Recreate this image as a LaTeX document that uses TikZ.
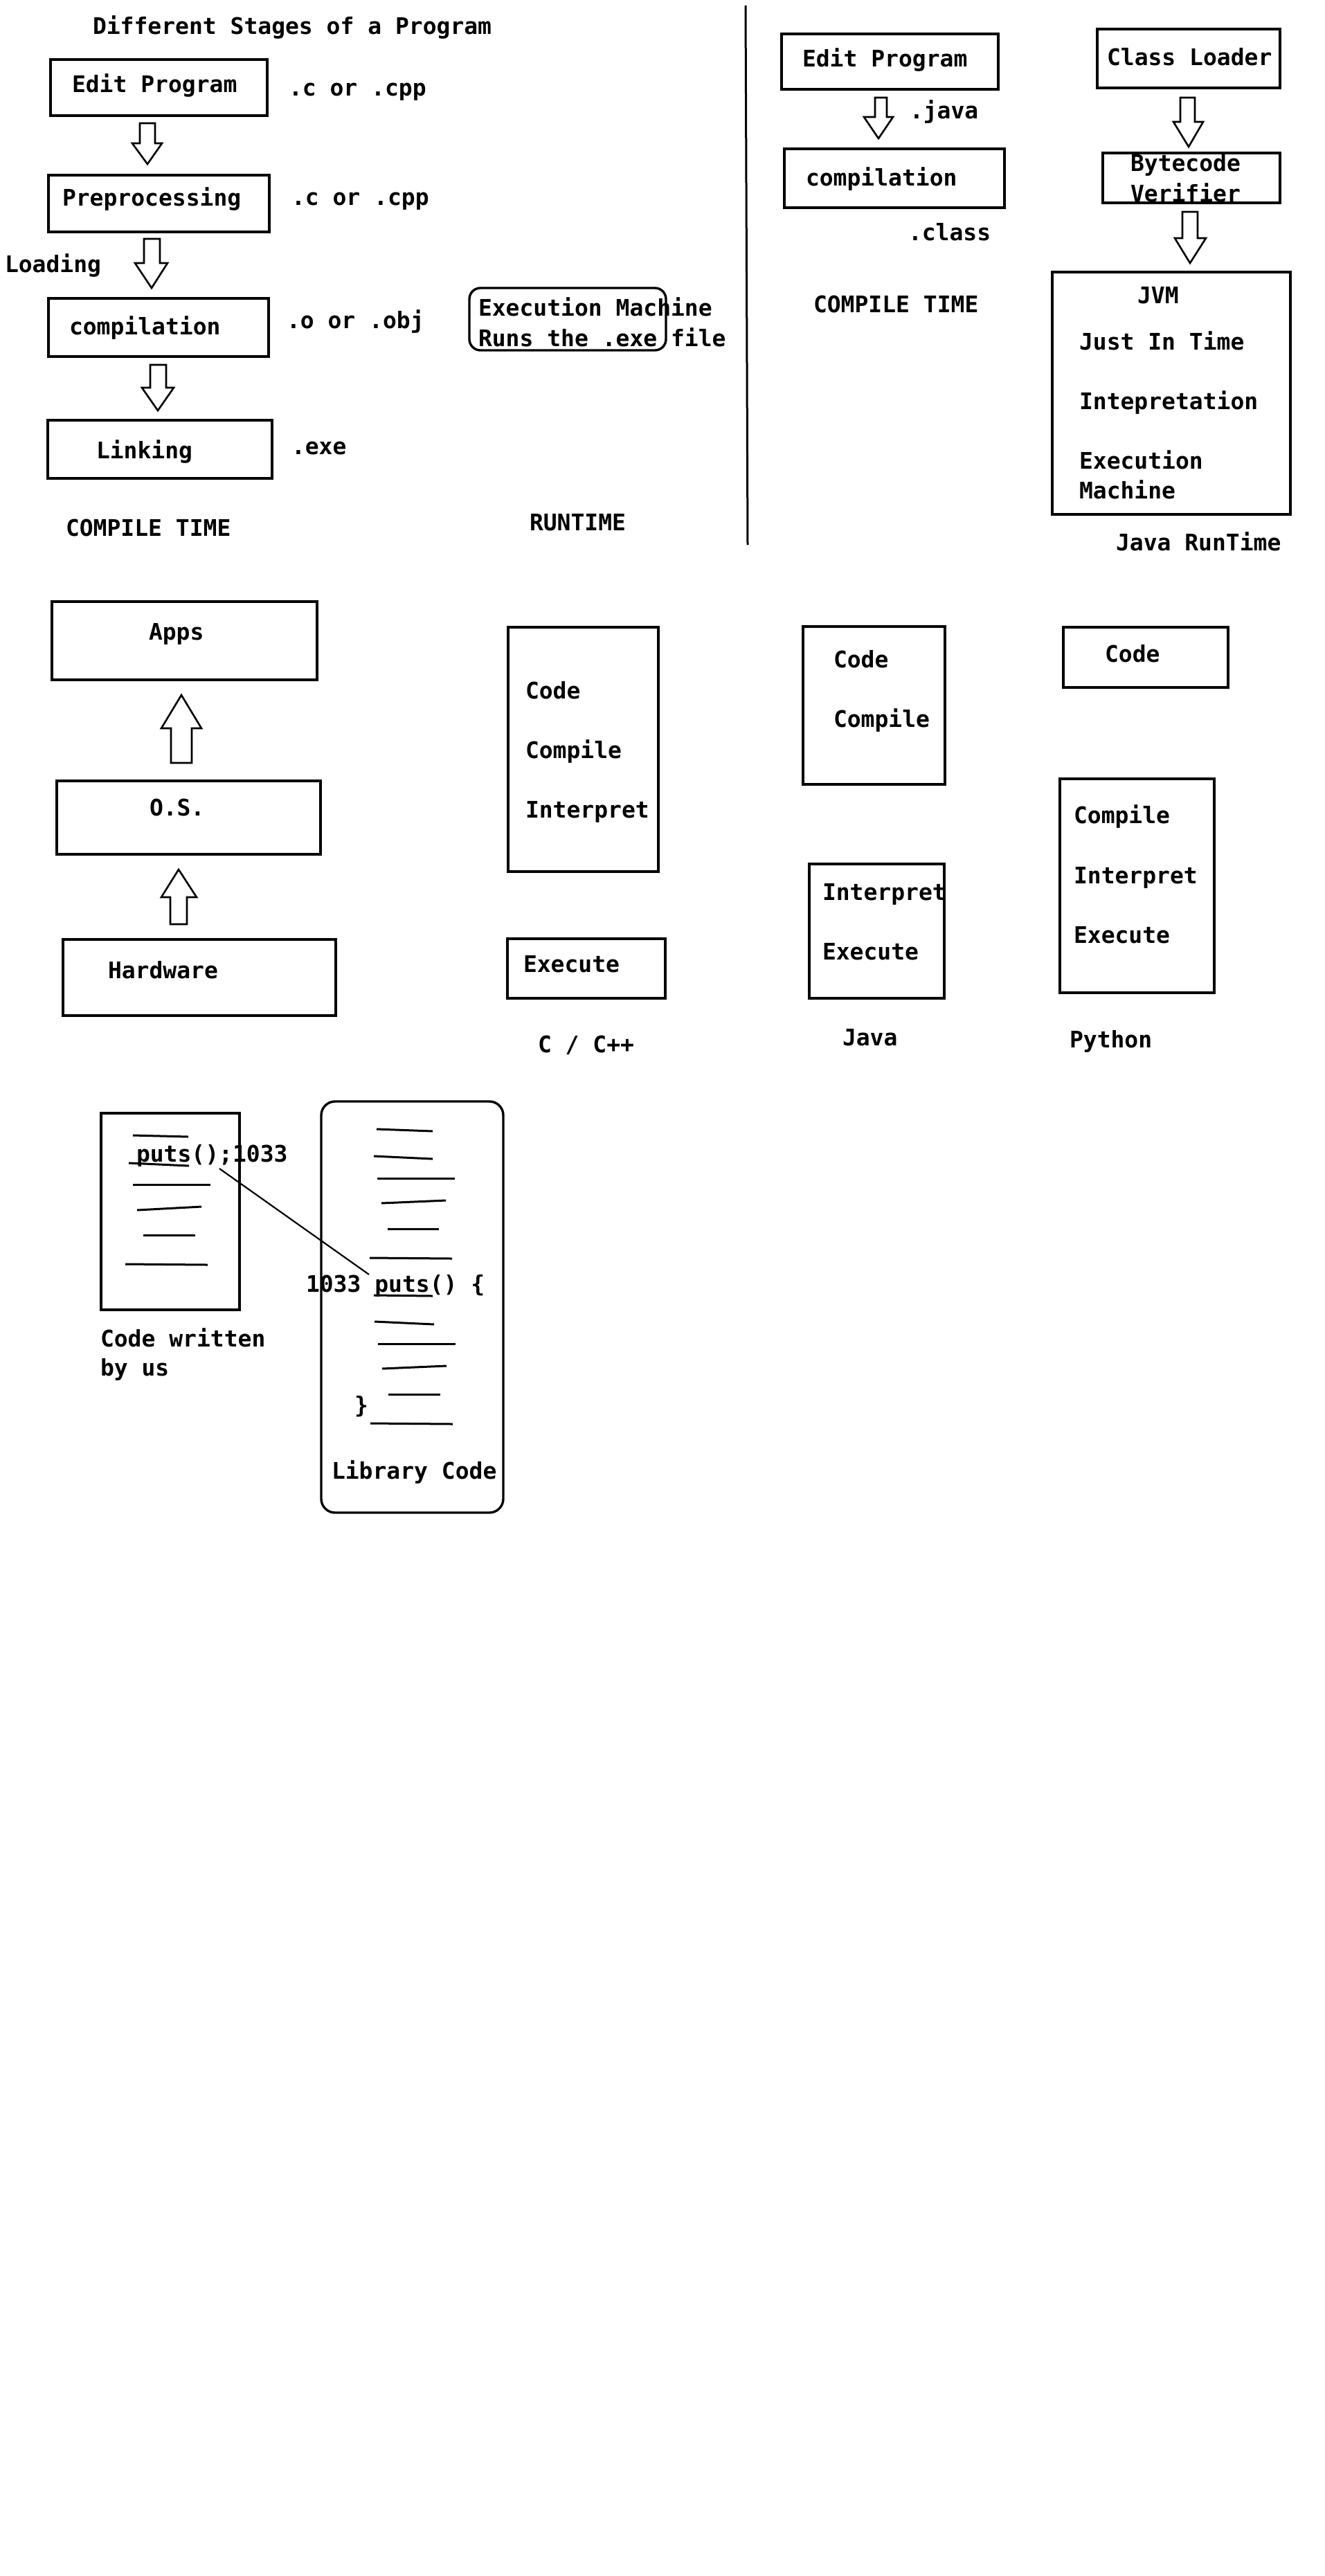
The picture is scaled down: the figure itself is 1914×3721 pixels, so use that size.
\documentclass[tikz,border=0pt]{standalone}
\usepackage{fontspec}
\setmonofont{DejaVu Sans Mono}
\begin{document}
\begin{tikzpicture}[x=1pt,y=-1pt,
  lbl/.style={anchor=base west, inner sep=0pt, outer sep=0pt,
    font=\ttfamily\bfseries\fontsize{33}{40}\selectfont},
  frame/.style={draw, line width=3.4pt, anchor=north west, inner sep=0pt, outer sep=0pt},
  rframe/.style={frame, rounded corners=16pt},
  blockarrow/.style={draw, line width=2.6pt, line join=miter},
  scribble/.style={line width=3pt},
  link/.style={line width=2.2pt},
]
% page
\path[use as bounding box, fill=white] (0,0) rectangle (1914,3721);

% ---------------- C / C++ build stages ----------------
\node[lbl] (title) at (134,49) {Different Stages of a Program};

\node[lbl] (tEdit) at (104,133) {Edit Program};
\node[lbl] (tPre)  at (90,297)  {Preprocessing};
\node[lbl] (tComp) at (100,483) {compilation};
\node[lbl] (tLink) at (139,662) {Linking};
\node[frame, minimum width=313pt, minimum height=81pt] (cEdit) at (73,86) {};
\node[frame, minimum width=319pt, minimum height=82pt] (cPre)  at (70,253) {};
\node[frame, minimum width=318pt, minimum height=84pt] (cComp) at (70,431) {};
\node[frame, minimum width=324pt, minimum height=84pt] (cLink) at (69,607) {};

\node[lbl] (ext1) at (417,138) {.c or .cpp};
\node[lbl] (ext2) at (421,296) {.c or .cpp};
\node[lbl] (ext3) at (414,474) {.o or .obj};
\node[lbl] (ext4) at (421,656) {.exe};
\node[lbl] (loading) at (7,393) {Loading};

% hollow block arrows between the stages
\draw[blockarrow] (202,178) -- (224,178) -- (224,207) -- (234,207) -- (213,237)
  -- (191,207) -- (202,207) -- cycle;
\draw[blockarrow] (208,345) -- (231,345) -- (231,380) -- (242,380) -- (219,416)
  -- (195,380) -- (208,380) -- cycle;
\draw[blockarrow] (217,527) -- (240,527) -- (240,560) -- (251,560) -- (228,593)
  -- (205,560) -- (217,560) -- cycle;

\node[lbl] (ctime) at (95,774) {COMPILE TIME};
\node[lbl] (rtime) at (765,766) {RUNTIME};

\node[lbl] (em1) at (691,456) {Execution Machine};
\node[lbl] (em2) at (691,500) {Runs the .exe file};
\node[rframe, minimum width=284pt, minimum height=90pt] (execM) at (678,416) {};

% divider between the two halves
\coordinate (divTop) at (1077,8);
\coordinate (divBot) at (1080,787);
\draw[line width=3pt] (divTop) -- (divBot);

% ---------------- Java build and run ----------------
\node[lbl] (jtEdit) at (1159,96) {Edit Program};
\node[lbl] (jtComp) at (1164,268) {compilation};
\node[frame, minimum width=313pt, minimum height=80pt] (jEdit) at (1129,49) {};
\node[frame, minimum width=318pt, minimum height=85pt] (jComp) at (1133,215) {};
\draw[blockarrow] (1264,141) -- (1281,141) -- (1281,169) -- (1290,169) -- (1269,200)
  -- (1248,169) -- (1264,169) -- cycle;
\node[lbl] (java) at (1314,171) {.java};
\node[lbl] (class) at (1312,347) {.class};
\node[lbl] (jctime) at (1175,451) {COMPILE TIME};

\node[lbl] (tLoader) at (1599,94) {Class Loader};
\node[lbl] (tByte) at (1633,247) {Bytecode};
\node[lbl] (tVer) at (1633,291) {Verifier};
\node[frame, minimum width=264pt, minimum height=85pt] (jLoader) at (1585,42) {};
\node[frame, minimum width=256pt, minimum height=72pt, fill=none] (jVerif) at (1593,221) {};
\draw[blockarrow] (1705,141) -- (1726,141) -- (1726,176) -- (1738,176) -- (1717,212)
  -- (1695,176) -- (1705,176) -- cycle;
\draw[blockarrow] (1708,306) -- (1730,306) -- (1730,344) -- (1742,344) -- (1719,380)
  -- (1697,344) -- (1708,344) -- cycle;

\node[frame, minimum width=344pt, minimum height=350pt] (jvm) at (1520,393) {};
\node[lbl] (tJVM) at (1643,438) {JVM};
\node[lbl] (tJIT) at (1559,505) {Just In Time};
\node[lbl] (tInt) at (1559,591) {Intepretation};
\node[lbl] (tEx1) at (1559,677) {Execution};
\node[lbl] (tEx2) at (1559,720) {Machine};
\node[lbl] (jrt) at (1612,795) {Java RunTime};

% ---------------- layers ----------------
\node[frame, minimum width=383pt, minimum height=113pt] (apps) at (75,869) {};
\node[frame, minimum width=381pt, minimum height=106pt] (os) at (82,1128) {};
\node[frame, minimum width=394pt, minimum height=110pt] (hw) at (91,1357) {};
\node[lbl] (tApps) at (215,924) {Apps};
\node[lbl] (tOS) at (216,1178) {O.S.};
\node[lbl] (tHW) at (156,1413) {Hardware};
\draw[blockarrow] (247,1102) -- (277,1102) -- (277,1052) -- (291,1052) -- (262,1004)
  -- (233,1052) -- (247,1052) -- cycle;
\draw[blockarrow] (246,1335) -- (270,1335) -- (270,1296) -- (284,1296) -- (258,1256)
  -- (233,1296) -- (246,1296) -- cycle;

% ---------------- languages ----------------
\node[frame, minimum width=217pt, minimum height=353pt] (cCode) at (734,906) {};
\node[lbl] at (759,1009) {Code};
\node[lbl] at (759,1095) {Compile};
\node[lbl] at (759,1181) {Interpret};
\node[frame, minimum width=228pt, minimum height=86pt] (cExec) at (733,1356) {};
\node[lbl] at (756,1404) {Execute};
\node[lbl] (lC) at (777,1520) {C / C++};

\node[frame, minimum width=205pt, minimum height=228pt] (javaA) at (1160,905) {};
\node[lbl] at (1204,964) {Code};
\node[lbl] at (1204,1050) {Compile};
\node[frame, minimum width=195pt, minimum height=194pt] (javaB) at (1169,1248) {};
\node[lbl] at (1188,1300) {Interpret};
\node[lbl] at (1188,1386) {Execute};
\node[lbl] (lJava) at (1217,1510) {Java};

\node[frame, minimum width=238pt, minimum height=87pt] (pyCode) at (1536,906) {};
\node[lbl] at (1596,956) {Code};
\node[frame, minimum width=223pt, minimum height=309pt] (pyRun) at (1531,1125) {};
\node[lbl] at (1551,1189) {Compile};
\node[lbl] at (1551,1276) {Interpret};
\node[lbl] at (1551,1362) {Execute};
\node[lbl] (lPy) at (1545,1513) {Python};

% ---------------- linking a library call ----------------
\node[frame, minimum width=200pt, minimum height=284pt] (userCode) at (146,1608) {};
\draw[scribble] (192,1640) -- (272,1642);
\node[lbl] (call) at (197,1678) {puts();1033};
\draw[scribble] (186,1680) -- (273,1684);
\draw[scribble] (192,1711) -- (304,1711);
\draw[scribble] (198,1748) -- (291,1743);
\draw[scribble] (207,1784) -- (282,1784);
\draw[scribble] (181,1826) -- (300,1827);
\node[lbl] at (145,1945) {Code written};
\node[lbl] at (145,1987) {by us};

\node[rframe, rounded corners=20pt, minimum width=263pt, minimum height=594pt] (libCode) at (464,1591) {};
\draw[scribble] (544,1631) -- (625,1634);
\draw[scribble] (540,1670) -- (625,1674);
\draw[scribble] (545,1702) -- (657,1702);
\draw[scribble] (551,1738) -- (644,1734);
\draw[scribble] (560,1775) -- (634,1775);
\draw[scribble] (534,1817) -- (653,1818);
\node[lbl] (def) at (442,1866) {1033 puts() \{};
\draw[scribble] (540,1871) -- (625,1872);
\draw[scribble] (541,1909) -- (627,1913);
\draw[scribble] (546,1941) -- (658,1941);
\draw[scribble] (552,1977) -- (645,1973);
\draw[scribble] (561,2014) -- (636,2014);
\node[lbl] (close) at (512,2041) {\}};
\draw[scribble] (535,2056) -- (654,2057);
\node[lbl] at (479,2136) {Library Code};

\coordinate (callsite) at (317,1688);
\coordinate (libentry) at (533,1841);
\draw[link] (callsite) -- (libentry);

\end{tikzpicture}
\end{document}
